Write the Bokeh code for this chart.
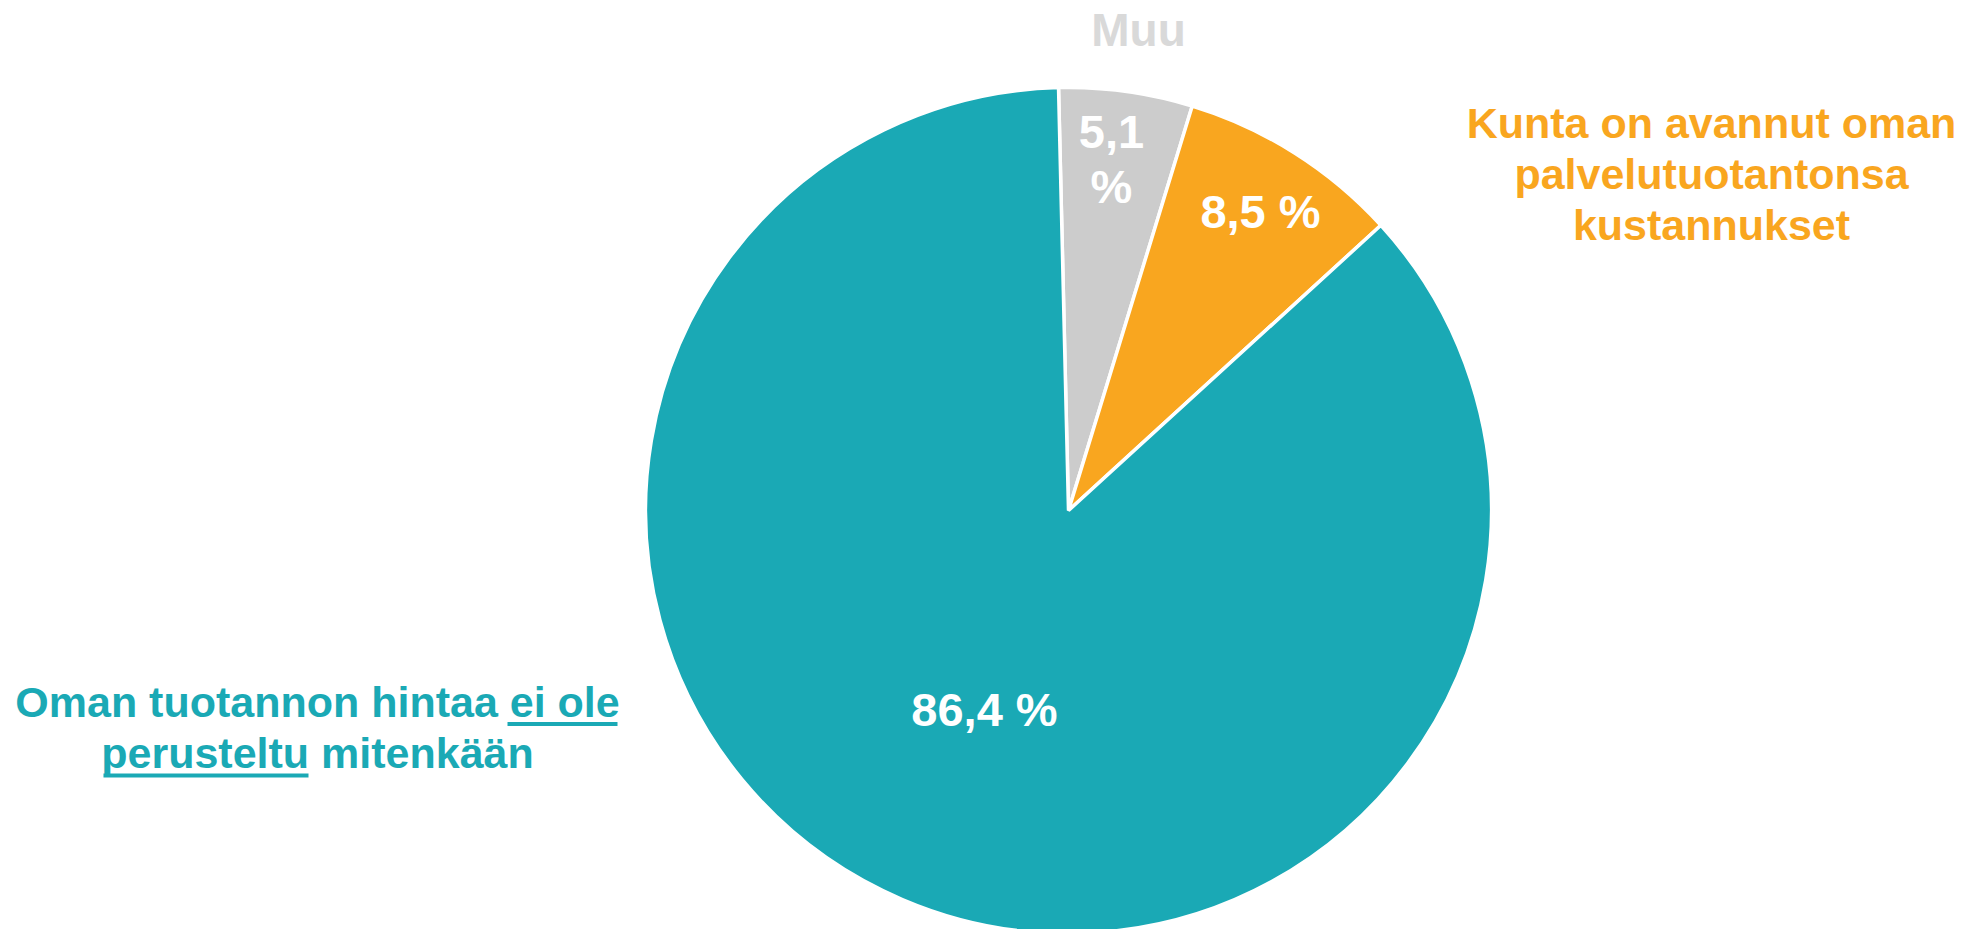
import math
from bokeh.plotting import figure
from bokeh.models import Range1d, ColumnDataSource
from bokeh.core.properties import value
from bokeh.embed import file_html
from bokeh.resources import INLINE

# ---- data ----
categories = ["Muu",
              "Kunta on avannut oman palvelutuotantonsa kustannukset",
              "Oman tuotannon hintaa ei ole perusteltu mitenkään"]
shares = [5.1, 8.5, 86.4]
colors = ["#CCCCCC", "#F9A61F", "#1AA9B5"]
label_colors = ["#D9D9D9", "#F9A61F", "#1AA9B5"]
category_lines = [["Muu"],
                  ["Kunta on avannut oman", "palvelutuotantonsa", "kustannukset"],
                  ["Oman tuotannon hintaa ei ole", "perusteltu mitenkään"]]

# ---- layout ----
W, H = 1963, 929
FIX = 16  # baseline correction for text rendering


def Y(py):
    return H - py


def TY(py):
    return H - (py - FIX)


p = figure(width=W, height=H, output_backend="svg", toolbar_location=None,
           x_range=Range1d(0, W), y_range=Range1d(0, H),
           x_axis_type=None, y_axis_type=None, min_border=0,
           outline_line_color=None, background_fill_color="white",
           border_fill_color="white")
p.grid.visible = False

cx, cy, r = 1068, Y(510), 423
start = math.radians(90 + 1.35)
total = sum(shares)
starts, ends = [], []
a = start
for v in shares:
    span = 2 * math.pi * v / total
    ends.append(a)
    starts.append(a - span)
    a -= span

src = ColumnDataSource(dict(start=starts, end=ends, color=colors,
                            x=[cx] * 3, y=[cy] * 3))
p.wedge(x="x", y="y", radius=r, start_angle="start", end_angle="end",
        fill_color="color", line_color="white", line_width=3.5, source=src)

FONT = value("Liberation Sans")

# percentage labels inside slices
pct_text = [f"{v:.1f}".replace(".", ",") + " %" for v in shares]
pct_pos = [(1111, [147, 202]), (1260, [227]), (984, [725])]
for txt, (x, ys) in zip(pct_text, pct_pos):
    lines = txt.split(" ") if len(ys) > 1 else [txt]
    for ln, yy in zip(lines, ys):
        p.text(x=[x], y=[TY(yy)], text=[ln], text_color="white",
               text_font=FONT, text_font_style="bold",
               text_font_size="47px", text_align="center",
               text_baseline="alphabetic")

# category labels
cat_pos = [(1138, [45], "46px"), (1711, [138, 189, 240], "43px"),
           (317, [717, 768], "43px")]
for lines, col, (x, ys, fs) in zip(category_lines, label_colors, cat_pos):
    for ln, yy in zip(lines, ys):
        p.text(x=[x], y=[TY(yy)], text=[ln], text_color=col,
               text_font=FONT, text_font_style="bold",
               text_font_size=fs, text_align="center",
               text_baseline="alphabetic")

# underlines under "ei ole" and "perusteltu"
p.segment(x0=[507, 103], y0=[Y(723.5), Y(775)], x1=[617, 308],
          y1=[Y(723.5), Y(775)], line_color="#1AA9B5", line_width=4,
          line_cap="butt")

open("out.html", "w").write(file_html(p, INLINE))
